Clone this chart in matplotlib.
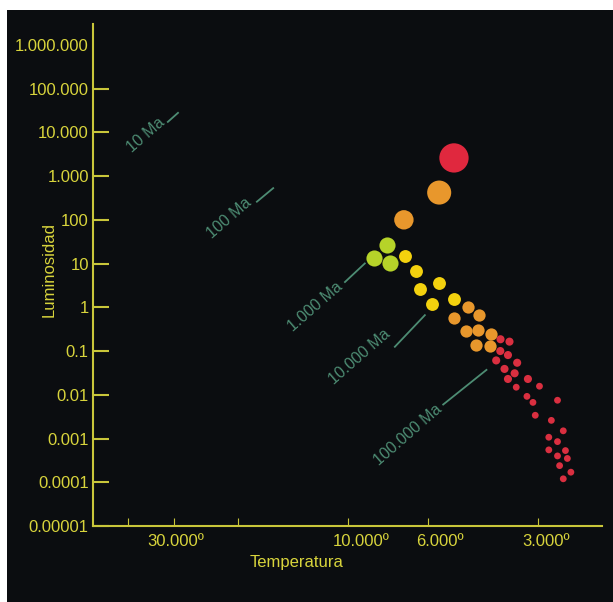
import matplotlib
matplotlib.use("Agg")
import matplotlib.pyplot as plt
import numpy as np
from matplotlib.patches import Rectangle
from matplotlib.transforms import ScaledTranslation

plt.rcParams['font.family'] = ['Liberation Sans', 'DejaVu Sans']

# Temperatura (K) y luminosidad (soles) de cada grupo de estrellas
giant_temp = [5100, 5600, 7000]
giant_lum = [2600, 420, 100]
giant_color = ['#e0283e', '#e8972c', '#e8972c']

green_temp = [7800, 8450, 7650]
green_lum = [27, 13.2, 10.4]

yellow_temp = [6950, 6470, 6320, 5600, 5860, 5100]
yellow_lum = [14.7, 6.65, 2.6, 3.65, 1.19, 1.54]

orange_temp = [4670, 5100, 4360, 4740, 4390, 4030, 4430, 4070]
orange_lum = [0.99, 0.58, 0.66, 0.29, 0.30, 0.25, 0.135, 0.13]

red_temp = [3800, 3590, 3805, 3625, 3905, 3420, 3705, 3475, 3625,
            3195, 3440, 2970, 3215, 3095, 2650, 3050, 2755, 2555,
            2800, 2650, 2800, 2520, 2650, 2490, 2615, 2435, 2555]
red_lum = [0.186, 0.164, 0.100, 0.081, 0.061, 0.054, 0.039, 0.031, 0.023,
           0.023, 0.0149, 0.0157, 0.0092, 0.0067, 0.0075, 0.0034, 0.0026, 0.0015,
           0.00107, 0.00085, 0.00055, 0.00053, 0.00040, 0.00035, 0.00024, 0.00017, 0.00012]

y_ticks = [1e-5, 1e-4, 1e-3, 1e-2, 1e-1, 1, 10, 100, 1e3, 1e4, 1e5, 1e6]
y_labels = ['0.00001', '0.0001', '0.001', '0.01', '0.1', '1', '10', '100',
            '1.000', '10.000', '100.000', '1.000.000']
x_ticks = [30000, 10000, 6000, 3000]
x_labels = ['30.000º', '10.000º', '6.000º', '3.000º']
x_label_shift = [2, 14, 12, 8]  # px, etiquetas algo corridas a la derecha
x_minor = [40000, 20000]

# Isocronas: texto, centro del texto y tramo de linea (fraccion de ejes)
iso_text = ['10 Ma', '100 Ma', '1.000 Ma', '10.000 Ma', '100.000 Ma']
iso_center = [(0.104, 0.779), (0.267, 0.613), (0.436, 0.437), (0.5245, 0.338), (0.6195, 0.181)]
iso_line = [((0.147, 0.805), (0.167, 0.823)),
            ((0.322, 0.646), (0.354, 0.673)),
            ((0.495, 0.486), (0.534, 0.523)),
            ((0.593, 0.357), (0.652, 0.420)),
            ((0.688, 0.242), (0.773, 0.311))]

axis_yellow = '#c9c63a'
text_yellow = '#d8d43c'
teal = '#4d8c73'
bg = '#0b0d10'

fig = plt.figure(figsize=(6.13, 6.02), dpi=100)
fig.patch.set_facecolor('white')
fig.add_artist(Rectangle((7 / 613, 0), 1, (602 - 10) / 602, transform=fig.transFigure,
                         facecolor=bg, edgecolor='none', zorder=0))

ax = fig.add_axes([93 / 613, 76 / 602, 509 / 613, 502 / 602])
ax.set_facecolor(bg)
ax.set_xscale('log')
ax.set_yscale('log')
ax.set_xlim(50000, 2000)
ax.set_ylim(1e-5, 3e6)

for side in ['top', 'right']:
    ax.spines[side].set_visible(False)
for side in ['left', 'bottom']:
    ax.spines[side].set_color(axis_yellow)
    ax.spines[side].set_linewidth(1.5)

ax.set_yticks(y_ticks)
ax.set_yticklabels(y_labels)
ax.yaxis.set_minor_locator(matplotlib.ticker.NullLocator())
ax.set_xticks(x_ticks)
ax.set_xticklabels(x_labels)
ax.set_xticks(x_minor, minor=True)
ax.xaxis.set_minor_formatter(matplotlib.ticker.NullFormatter())

ax.tick_params(axis='y', which='major', direction='in', length=11.5, width=1.5,
               color=axis_yellow, labelcolor=text_yellow, labelsize=12, pad=3)
ax.tick_params(axis='x', which='both', direction='in', length=5.5, width=0.8,
               color=axis_yellow, labelcolor=text_yellow, labelsize=12, pad=6)
ax.yaxis.get_major_ticks()[-1].tick1line.set_visible(False)

for lbl, dx in zip(ax.get_xticklabels(), x_label_shift):
    lbl.set_transform(lbl.get_transform() + ScaledTranslation(dx / 100, 0, fig.dpi_scale_trans))

ax.set_ylabel('Luminosidad', color=text_yellow, fontsize=12)
ax.yaxis.set_label_coords(-0.072, 0.51)
ax.set_xlabel('Temperatura', color=text_yellow, fontsize=12)
ax.xaxis.set_label_coords(0.399, -0.058)

# Estrellas
ax.scatter(red_temp, red_lum, s=np.where(np.array(red_lum) > 0.02, 34, 24),
           color='#da2f40', linewidths=0, zorder=3)
ax.scatter(orange_temp, orange_lum, s=78, color='#e8972c', linewidths=0, zorder=3)
ax.scatter(yellow_temp, yellow_lum, s=86, color='#f3d10e', linewidths=0, zorder=3)
ax.scatter(green_temp, green_lum, s=135, color='#b6d329', linewidths=0, zorder=3)
ax.scatter(giant_temp, giant_lum, s=[445, 300, 195], color=giant_color, linewidths=0, zorder=3)

# Isocronas
for txt, c, (p0, p1) in zip(iso_text, iso_center, iso_line):
    ax.text(c[0], c[1], txt, transform=ax.transAxes, rotation=41, rotation_mode='anchor',
            ha='center', va='center', color=teal, fontsize=11.5)
    ax.plot([p0[0], p1[0]], [p0[1], p1[1]], transform=ax.transAxes, color=teal, lw=1.3)

fig.savefig('out.png', dpi=100)
